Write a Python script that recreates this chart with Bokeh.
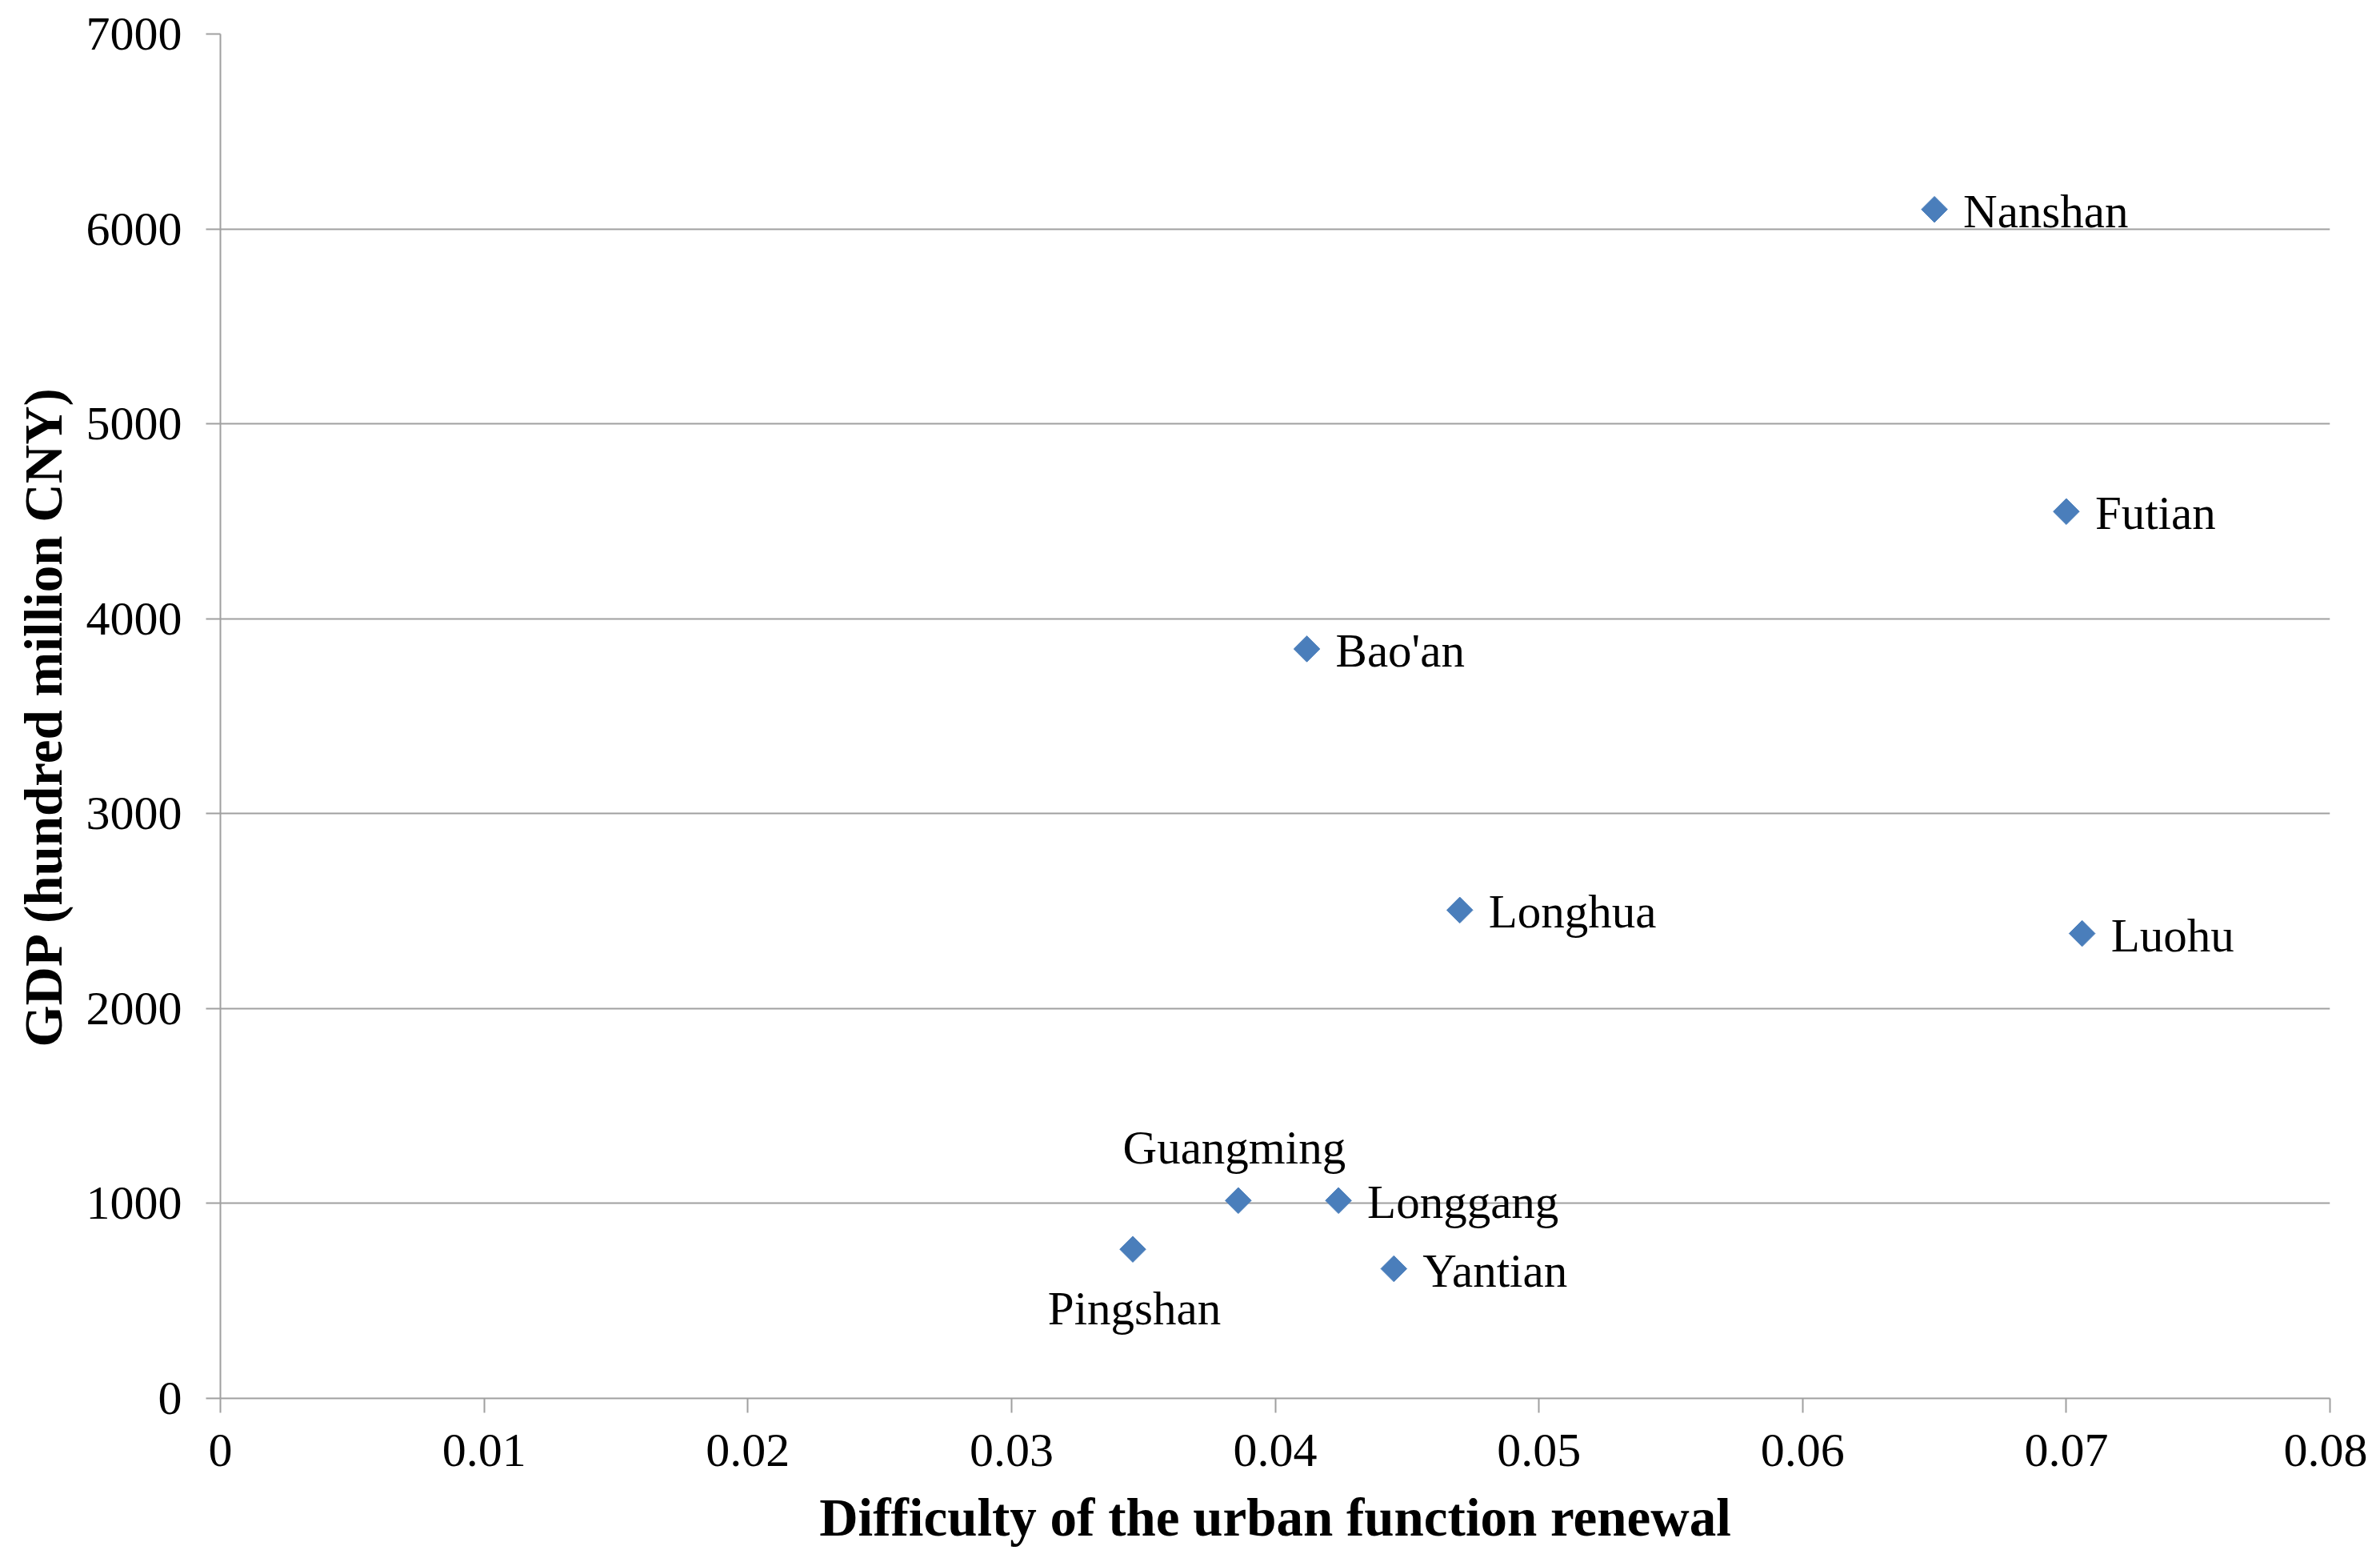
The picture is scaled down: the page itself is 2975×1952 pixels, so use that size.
from bokeh.plotting import figure
from bokeh.models import ColumnDataSource, FixedTicker, CustomJSTickFormatter
from bokeh.core.properties import value
from bokeh.embed import file_html
from bokeh.resources import INLINE
import math

# ---- data ----
districts = ["Nanshan", "Futian", "Bao'an", "Longhua", "Luohu",
             "Guangming", "Longgang", "Yantian", "Pingshan"]
difficulty = [0.0650, 0.0700, 0.0412, 0.0470, 0.0706,
              0.0386, 0.0424, 0.0445, 0.0346]
gdp = [6100, 4550, 3845, 2505, 2385, 1015, 1015, 665, 765]
x_ticks = [0, 0.01, 0.02, 0.03, 0.04, 0.05, 0.06, 0.07, 0.08]
y_ticks = [0, 1000, 2000, 3000, 4000, 5000, 6000, 7000]
x_title = "Difficulty of the urban function renewal"
y_title = "GDP (hundred million CNY)"

label_place = {"Guangming": "above", "Pingshan": "below"}

FONT = "Liberation Serif"
GRID = "#a0a0a0"
BLUE = "#4a7ebb"

p = figure(width=2959, height=1936, output_backend="svg", toolbar_location=None,
           x_range=(0, 0.08), y_range=(0, 7000),
           min_border_left=275, min_border_right=47,
           min_border_top=42, min_border_bottom=189)
p.outline_line_color = None
p.background_fill_color = "white"
p.border_fill_color = "white"

src = ColumnDataSource(dict(x=difficulty, y=gdp, name=districts))
p.scatter("x", "y", source=src, marker="square", size=23, angle=math.pi / 4,
          fill_color=BLUE, line_color=BLUE)

right = [i for i, d in enumerate(districts) if d not in label_place]
above = [i for i, d in enumerate(districts) if label_place.get(d) == "above"]
below = [i for i, d in enumerate(districts) if label_place.get(d) == "below"]

def sub(idx):
    return ColumnDataSource(dict(x=[difficulty[i] for i in idx],
                                 y=[gdp[i] for i in idx],
                                 name=[districts[i] for i in idx]))

common = dict(text="name", text_font=value(FONT), text_font_size="59px",
              text_color="black", text_baseline="middle")
p.text("x", "y", source=sub(right), x_offset=36, y_offset=2,
       text_align="left", **common)
p.text("x", "y", source=sub(above), x_offset=-5, y_offset=-66,
       text_align="center", **common)
p.text("x", "y", source=sub(below), x_offset=2, y_offset=74,
       text_align="center", **common)

# grid
p.xgrid.grid_line_color = None
p.ygrid.grid_line_color = GRID
p.ygrid.grid_line_width = 2
p.ygrid.ticker = FixedTicker(ticks=y_ticks)

# axes
for ax in (p.xaxis[0], p.yaxis[0]):
    ax.axis_line_color = GRID
    ax.axis_line_width = 2
    ax.major_tick_line_color = GRID
    ax.major_tick_line_width = 2
    ax.major_tick_in = 0
    ax.major_tick_out = 18
    ax.minor_tick_line_color = None
    ax.major_label_text_font = FONT
    ax.major_label_text_font_size = "60px"
    ax.major_label_text_color = "black"
    ax.axis_label_text_font = FONT
    ax.axis_label_text_font_size = "67px"
    ax.axis_label_text_font_style = "bold"
    ax.axis_label_text_color = "black"

p.xaxis.ticker = FixedTicker(ticks=x_ticks)
p.yaxis.ticker = FixedTicker(ticks=y_ticks)
p.xaxis.formatter = CustomJSTickFormatter(
    code="return tick === 0 ? '0' : tick.toFixed(2);")
p.yaxis.formatter = CustomJSTickFormatter(code="return tick.toFixed(0);")
p.xaxis.axis_label = x_title
p.yaxis.axis_label = y_title
p.xaxis.major_label_standoff = 27
p.yaxis.major_label_standoff = 30
p.xaxis.axis_label_standoff = 24
p.yaxis.axis_label_standoff = 14

open("out.html", "w").write(file_html(p, INLINE))
